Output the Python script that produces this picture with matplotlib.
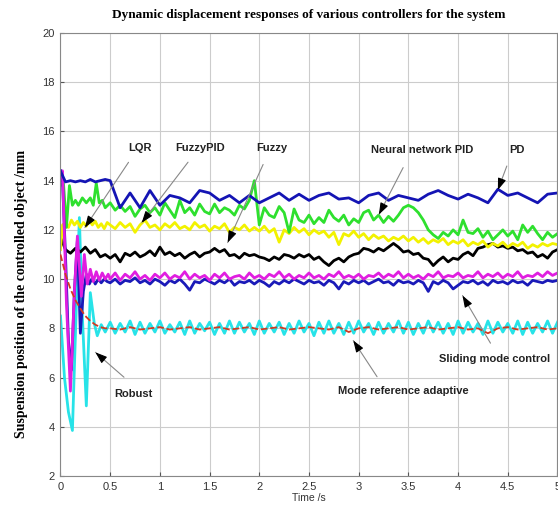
import numpy as np
import matplotlib
matplotlib.use("Agg")
import matplotlib.pyplot as plt

# ---- data ----
# steady part sampled every 0.05 s (fine) or 0.1 s (coarse), from 0.5 s to 5 s
t_fine = np.arange(0.5, 5.0001, 0.05)
t_coarse = np.arange(0.5, 5.0001, 0.1)

pd_t0 = [0.0, 0.01, 0.05, 0.1, 0.15, 0.2, 0.25, 0.3, 0.35, 0.4, 0.45]
pd_v0 = [14.4, 14.3, 13.95, 14.0, 13.95, 14.0, 13.95, 14.05, 13.95, 14.0, 14.05]
pd_v = [14.0, 12.9, 13.5, 12.9, 13.6, 13.0, 13.4, 13.3, 13.1, 13.6,
        13.5, 13.2, 13.4, 13.1, 13.4, 13.1, 13.3, 13.5, 13.2, 13.45,
        13.2, 13.4, 13.5, 13.25, 13.3, 13.1, 13.4, 13.5, 13.2, 13.4,
        13.3, 13.2, 13.45, 13.6, 13.4, 13.25, 13.45, 13.3, 13.1, 13.65,
        13.4, 13.5, 13.3, 13.1, 13.45, 13.5]

nn_t0 = [0.0, 0.03, 0.06, 0.09, 0.12, 0.15, 0.18, 0.22, 0.26, 0.3, 0.33, 0.36, 0.39, 0.42, 0.45]
nn_v0 = [13.8, 13.9, 12.1, 13.8, 13.0, 13.2, 13.0, 13.3, 13.1, 13.3, 13.0, 13.9, 13.1, 13.2, 12.9]
nn_v = [13.1, 12.8, 13.0, 12.75, 12.95, 12.55, 12.85, 13.0, 12.7, 12.9,
        12.6, 13.1, 12.8, 12.5, 13.2, 12.7, 12.9, 12.6, 13.05, 12.75,
        12.65, 13.05, 12.7, 12.9, 12.8, 12.6, 13.0, 12.85, 13.2, 14.0,
        12.2, 12.9, 12.6, 12.5, 12.95, 12.7, 11.9, 12.85, 12.4, 12.3,
        12.6, 12.25, 12.5, 12.3, 12.8, 12.5, 12.35, 12.6, 12.2, 12.45,
        12.3, 12.7, 12.8, 12.4, 12.6, 12.3, 12.55, 12.35, 12.6, 12.9,
        13.0, 12.9, 12.7, 12.4, 12.0, 11.8, 11.65, 11.9, 11.75, 12.0,
        11.8, 12.4, 11.9, 11.85, 12.05, 11.7, 11.95, 11.6, 11.8, 12.0,
        11.75, 11.95, 11.6, 12.2, 11.9, 12.15, 11.85, 11.6, 11.9, 11.7,
        11.85]

fpid_t0 = [0.0, 0.02, 0.05, 0.08, 0.11, 0.14, 0.17, 0.2, 0.23, 0.26, 0.29, 0.32, 0.35, 0.38, 0.41, 0.44, 0.47]
fpid_v0 = [11.2, 12.2, 12.3, 12.1, 12.4, 12.2, 12.35, 12.1, 12.3, 12.15, 12.4, 12.2, 12.35, 12.1, 12.25, 12.05, 12.3]
fpid_v = [12.2, 12.05, 12.3, 12.1, 12.25, 11.9, 12.2, 12.4, 12.1, 12.2,
          12.0, 12.25, 12.1, 12.3, 12.05, 12.15, 12.0, 12.3, 12.1, 12.2,
          11.95, 12.15, 12.05, 12.25, 11.9, 12.1, 12.0, 12.2, 11.95, 12.1,
          11.95, 12.15, 11.9, 12.05, 11.5, 12.0, 11.85, 12.1, 11.9, 12.05,
          11.8, 12.0, 11.85, 11.95, 11.7, 11.9, 11.4, 11.85, 11.75, 11.95,
          11.7, 11.85, 11.6, 11.8, 11.65, 11.75, 11.55, 11.7, 11.6, 11.75,
          11.55, 11.7, 11.5, 11.65, 11.45, 11.6, 11.5, 11.65, 11.4, 11.55,
          11.45, 11.6, 11.35, 11.5, 11.4, 11.55, 11.3, 11.45, 11.35, 11.5,
          11.3, 11.45, 11.35, 11.5, 11.25, 11.4, 11.3, 11.45, 11.35, 11.45,
          11.4]

fz_t0 = [0.0, 0.05, 0.1, 0.15, 0.2, 0.25, 0.3, 0.35, 0.4, 0.45]
fz_v0 = [11.7, 11.2, 11.05, 11.25, 11.1, 11.3, 11.05, 11.2, 10.9, 11.0]
fz_v = [10.85, 11.0, 10.7, 11.05, 10.95, 11.1, 10.9, 11.0, 11.15, 10.95,
        11.3, 11.0, 11.1, 10.95, 11.05, 10.85, 11.0, 11.1, 10.9, 11.05,
        11.1, 11.25, 11.1, 11.2, 10.95, 11.0, 10.85, 11.05, 10.95, 11.0,
        10.9, 10.85, 10.75, 10.9, 10.8, 11.0, 10.95, 10.85, 11.0, 10.9,
        11.0, 10.8, 10.9, 10.7, 10.55, 10.75, 10.85, 10.7, 10.9, 11.0,
        11.05, 11.25, 11.2, 11.1, 11.25, 11.15, 11.3, 11.45, 11.3, 11.1,
        11.15, 11.0, 11.05, 10.85, 10.8, 10.55, 10.75, 10.9, 10.7, 10.85,
        10.8, 11.0, 11.1, 10.95, 11.25, 11.3, 11.4, 11.45, 11.3, 11.35,
        11.25, 11.3, 11.15, 11.2, 11.05, 11.1, 10.9, 11.0, 10.85, 11.1,
        11.2]

lqr_t0 = [0.0, 0.02, 0.06, 0.1, 0.14, 0.17, 0.21, 0.24, 0.27, 0.3, 0.33, 0.36, 0.39, 0.42, 0.45, 0.48]
lqr_v0 = [14.3, 14.4, 9.0, 5.45, 9.5, 11.75, 9.3, 11.0, 9.8, 10.4, 9.9, 10.3, 9.95, 10.25, 10.0, 10.2]
lqr_v = [10.0, 10.25, 9.95, 10.2, 10.05, 10.3, 10.0, 10.15, 9.95, 10.2,
         10.05, 10.25, 10.0, 10.15, 10.05, 10.3, 10.0, 10.2, 10.05, 10.15,
         9.95, 10.2, 10.05, 10.25, 10.0, 10.1, 10.15, 10.0, 10.25, 10.05,
         10.15, 10.0, 10.2, 10.1, 10.3, 10.05, 10.2, 10.0, 10.15, 10.05,
         10.25, 10.05, 10.15, 10.0, 10.2, 10.1, 10.3, 10.05, 10.15, 10.05,
         10.2, 10.0, 10.15, 10.1, 10.25, 10.05, 10.2, 10.1, 10.3, 10.05,
         10.2, 10.05, 10.15, 10.0, 10.2, 10.1, 10.3, 10.05, 10.15, 10.1,
         10.25, 10.05, 10.15, 10.1, 10.3, 10.05, 10.2, 10.1, 10.25, 10.05,
         10.2, 10.1, 10.3, 10.05, 10.15, 10.1, 10.25, 10.1, 10.3, 10.15,
         10.25]

smc_t0 = [0.0, 0.02, 0.05, 0.08, 0.11, 0.14, 0.17, 0.2, 0.23, 0.26, 0.29, 0.32, 0.35, 0.38, 0.41, 0.44, 0.47]
smc_v0 = [14.4, 14.0, 11.0, 7.5, 6.3, 9.5, 11.6, 7.8, 9.5, 10.2, 9.8, 10.05, 9.8, 10.0, 9.85, 10.0, 9.9]
smc_v = [9.85, 10.0, 9.8, 9.95, 9.9, 10.05, 9.85, 9.95, 9.8, 10.0,
         9.9, 9.75, 9.95, 9.85, 10.0, 9.8, 9.55, 9.9, 9.85, 10.0,
         9.9, 9.8, 9.95, 9.85, 10.0, 9.75, 9.9, 9.85, 9.95, 9.8,
         9.95, 9.85, 9.7, 9.9, 9.8, 9.95, 9.85, 10.0, 9.9, 9.8,
         9.95, 9.85, 9.9, 9.75, 9.95, 9.85, 9.6, 9.9, 9.8, 9.95,
         9.85, 9.95, 9.8, 9.9, 10.0, 9.85, 9.9, 9.75, 9.95, 9.85,
         9.9, 9.8, 9.95, 9.85, 9.5, 9.9, 9.8, 9.95, 9.85, 9.6,
         9.75, 9.9, 9.85, 9.95, 9.8, 9.9, 9.75, 9.95, 9.85, 9.9,
         9.8, 9.95, 9.85, 9.9, 9.75, 9.95, 9.9, 9.85, 9.95, 9.9,
         9.95]

rob_t0 = [0.0, 0.04, 0.08, 0.12, 0.16, 0.19, 0.22, 0.26, 0.3, 0.34, 0.37, 0.41, 0.45]
rob_v0 = [8.5, 6.0, 4.6, 3.85, 9.0, 12.5, 8.5, 4.85, 9.45, 8.2, 7.7, 8.15, 7.85]
rob_v = [8.25, 7.8, 8.2, 7.85, 8.3, 7.75, 8.25, 7.8, 8.2, 7.85,
         8.3, 7.8, 8.15, 7.85, 8.25, 7.75, 8.3, 7.8, 8.2, 7.9,
         8.25, 7.75, 8.2, 7.8, 8.3, 7.8, 8.25, 7.85, 8.2, 7.75,
         8.3, 7.8, 8.2, 7.85, 8.25, 7.75, 8.2, 7.8, 8.3, 7.85,
         8.2, 7.7, 8.25, 7.8, 8.3, 7.8, 8.2, 7.75, 8.25, 7.8,
         8.3, 7.85, 8.2, 7.75, 8.25, 7.8, 8.2, 7.85, 8.3, 7.8,
         8.25, 7.75, 8.2, 7.8, 8.3, 7.85, 8.25, 7.8, 8.2, 7.75,
         8.3, 7.8, 8.25, 7.85, 8.2, 7.75, 8.3, 7.8, 8.25, 7.85,
         8.2, 7.8, 8.3, 7.75, 8.25, 7.8, 8.2, 7.85, 8.3, 7.8,
         8.25]

mra_t0 = [0.0, 0.05, 0.1, 0.15, 0.2, 0.25, 0.3, 0.35, 0.4, 0.45]
mra_v0 = [11.0, 10.2, 9.6, 9.15, 8.8, 8.5, 8.3, 8.15, 8.05, 8.0]
mra_v = [8.0, 7.95, 8.05, 7.95, 8.0, 8.05, 7.95, 8.0, 8.05, 7.95,
         8.0, 8.05, 7.95, 8.0, 8.05, 7.95, 8.0, 8.05, 7.95, 8.0,
         8.05, 8.0, 7.95, 8.05, 7.85, 8.0, 8.05, 7.95, 8.0, 8.05,
         7.95, 8.0, 8.05, 7.95, 8.0, 8.05, 7.95, 8.0, 7.8, 8.0,
         8.05, 7.95, 8.0, 8.05, 7.95, 8.0]

# label, text position, arrow tail, arrow tip
notes = [
    ("LQR", (0.80, 15.33), (0.70, 14.84), (0.23, 12.0)),
    ("FuzzyPID", (1.40, 15.33), (1.30, 14.84), (0.80, 12.2)),
    ("Fuzzy", (2.13, 15.33), (2.05, 14.76), (1.67, 11.38)),
    ("Neural network PID", (3.64, 15.24), (3.46, 14.63), (3.19, 12.52)),
    ("PD", (4.59, 15.24), (4.50, 14.70), (4.40, 13.62)),
    ("Sliding mode control", (4.37, 6.75), (4.34, 7.3), (4.03, 9.43)),
    ("Mode reference adaptive", (3.45, 5.45), (3.20, 5.94), (2.93, 7.6)),
    ("Robust", (0.73, 5.32), (0.66, 5.94), (0.33, 7.1)),
]

fig = plt.figure(figsize=(5.58, 5.09), dpi=100)
ax = fig.add_axes([0.1084, 0.0648, 0.8907, 0.8704])

lw = 2.0
ax.plot(np.r_[mra_t0, t_coarse], np.r_[mra_v0, mra_v], color='#d23a22', lw=1.3, ls='--', zorder=3)
ax.plot(np.r_[rob_t0, t_fine], np.r_[rob_v0, rob_v], color='#27e3e8', lw=lw, zorder=2)
ax.plot(np.r_[fz_t0, t_fine], np.r_[fz_v0, fz_v], color='black', lw=lw)
ax.plot(np.r_[fpid_t0, t_fine], np.r_[fpid_v0, fpid_v], color='#f2f200', lw=lw)
ax.plot(np.r_[nn_t0, t_fine], np.r_[nn_v0, nn_v], color='#2ee02e', lw=lw)
ax.plot(np.r_[smc_t0, t_fine], np.r_[smc_v0, smc_v], color='#1a1ab8', lw=lw)
ax.plot(np.r_[lqr_t0, t_fine], np.r_[lqr_v0, lqr_v], color='#e01ee0', lw=lw)
ax.plot(np.r_[pd_t0, t_coarse], np.r_[pd_v0, pd_v], color='#1414b4', lw=lw)

for label, txt, tail, tip in notes:
    ax.text(txt[0], txt[1], label, ha='center', va='center', fontsize=8,
            fontweight='bold', family='Liberation Sans', color='#222222', zorder=6)
    ax.annotate('', xy=tip, xytext=tail,
                arrowprops=dict(arrowstyle='-', color='#888888', lw=0.8), zorder=5)
    hx = tip[0] + 0.18 * (tail[0] - tip[0])
    hy = tip[1] + 0.18 * (tail[1] - tip[1])
    ax.annotate('', xy=tip, xytext=(hx, hy),
                arrowprops=dict(arrowstyle='-|>,head_length=0.7,head_width=0.25',
                                color='black', lw=0.8), zorder=6)

ax.set_xlim(0, 5)
ax.set_ylim(2, 20)
ax.set_xticks([0, 0.5, 1, 1.5, 2, 2.5, 3, 3.5, 4, 4.5, 5])
ax.set_xticklabels(['0', '0.5', '1', '1.5', '2', '2.5', '3', '3.5', '4', '4.5', '5'])
ax.set_yticks(range(2, 21, 2))
ax.grid(True, color='#cccccc', lw=0.8)
ax.set_axisbelow(True)
ax.tick_params(direction='in', length=3, labelsize=8, colors='#555555', labelcolor='#333333', pad=4)
for lab in ax.get_xticklabels() + ax.get_yticklabels():
    lab.set_family('Liberation Sans')
for sp in ax.spines.values():
    sp.set_color('#888888')
    sp.set_linewidth(0.8)

ax.set_title('Dynamic displacement responses of various controllers for the system',
             fontsize=9.5, fontweight='bold', family='Liberation Serif', pad=11)
ax.set_xlabel('Time /s', fontsize=7.5, family='Liberation Sans', color='#333333', labelpad=1)
ax.set_ylabel('Suspension position of the controlled object /mm', fontsize=10,
              fontweight='bold', family='Liberation Serif')
ax.yaxis.set_label_coords(-0.065, 0.41)

fig.savefig('out.png', dpi=100)
